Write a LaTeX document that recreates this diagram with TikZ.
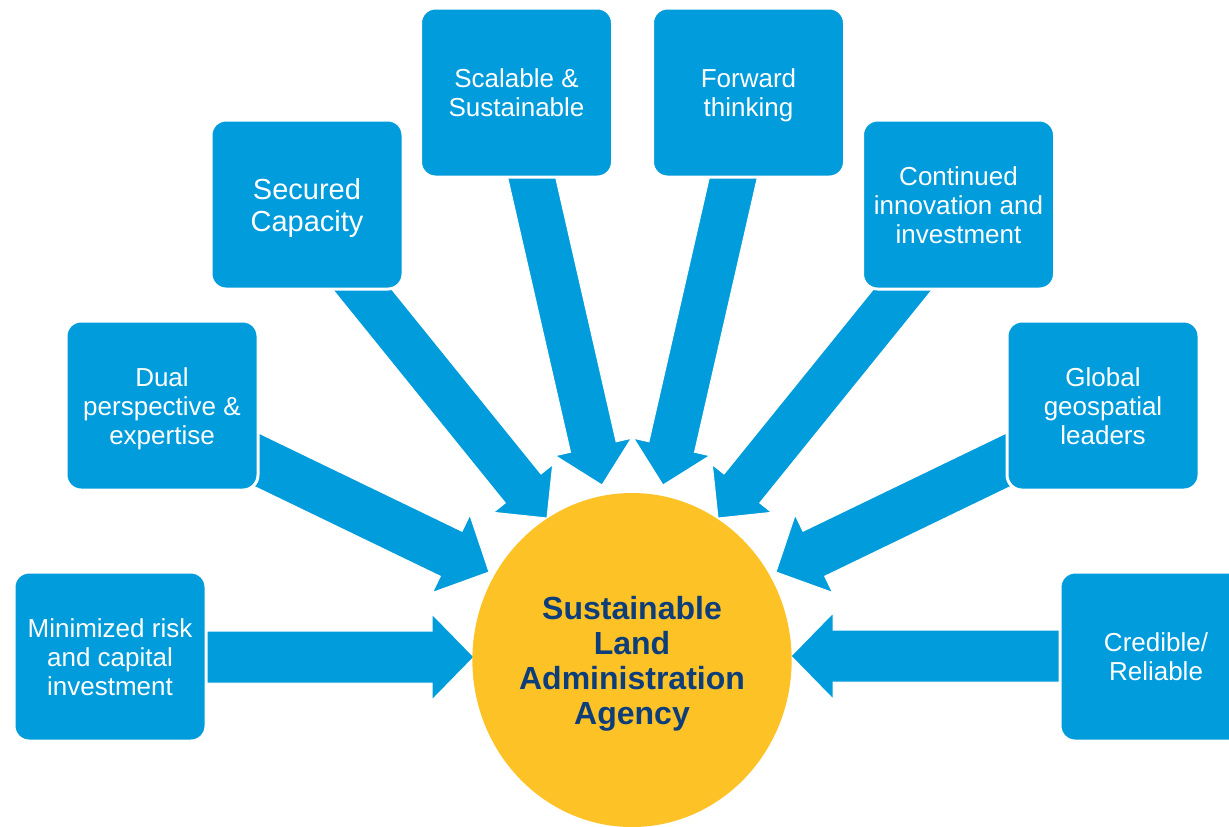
\documentclass[tikz,border=0pt]{standalone}
\usepackage{fontspec}
\setmainfont{Liberation Sans}
\usetikzlibrary{calc,shapes.geometric}

\definecolor{boxblue}{RGB}{0,156,219}
\definecolor{hubyellow}{RGB}{253,194,38}
\definecolor{hubtext}{RGB}{14,62,122}

% Struts for the first line (height) and the last line (depth),
% so that every text block is centred the same way
\newcommand\tops{\rule{0pt}{0.95em}}
\newcommand\bots{\rule[-0.215em]{0pt}{0.215em}}

% Block arrow from start coordinate #1 to tip coordinate #2:
% #3 half shaft width, #4 half head width, #5 head length.
% The shaft is extended backwards so that it tucks under its box.
\newcommand\blockarrow[5]{%
  \path ($(#2)!#5!(#1)$) coordinate (hb)
        ($(#1)!-20pt!(#2)$) coordinate (st);
  \filldraw[arrowbody]
    ($(st)!#3!90:(#2)$) -- ($(hb)!#3!90:(#2)$) -- ($(hb)!#4!90:(#2)$)
    -- (#2)
    -- ($(hb)!#4!-90:(#2)$) -- ($(hb)!#3!-90:(#2)$) -- ($(st)!#3!-90:(#2)$)
    -- cycle;
}

\tikzset{
  arrowbody/.style={fill=boxblue, draw=white, line width=0.5pt, line join=miter},
  ideabox/.style={rectangle, rounded corners=7.5pt, fill=boxblue, draw=white,
    line width=1.5pt, minimum width=96pt, minimum height=84.5pt, inner sep=2pt,
    align=center, text=white, font=\fontsize{13}{14.5}\selectfont},
  hub/.style={ellipse, fill=hubyellow, draw=none, minimum width=158pt,
    minimum height=167pt, inner sep=0pt, align=center, text=hubtext,
    font=\fontsize{16}{17.5}\selectfont\bfseries},
}

\begin{document}
\begin{tikzpicture}[x=0.5pt, y=-0.5pt]
\useasboundingbox (0,0) rectangle (1229,826);
\begin{scope}
\clip (0,0) rectangle (1229,826);

% arrow start points (at the box edges) and tips (at the hub)
\coordinate (s1) at (205,657);   \coordinate (t1) at (474,657);
\coordinate (s2) at (257,460);   \coordinate (t2) at (489,572);
\coordinate (s3) at (363.5,291); \coordinate (t3) at (547,518);
\coordinate (s4) at (532,179);   \coordinate (t4) at (602,485);
\coordinate (s5) at (733,179);   \coordinate (t5) at (663,485);
\coordinate (s6) at (901.5,291); \coordinate (t6) at (718,518);
\coordinate (s7) at (1008,460);  \coordinate (t7) at (776,572);
\coordinate (s8) at (1060,656);  \coordinate (t8) at (791,656);

% block arrows
\blockarrow{s1}{t1}{13pt}{21.5pt}{21pt}
\blockarrow{s2}{t2}{12.5pt}{21.5pt}{21pt}
\blockarrow{s3}{t3}{11.5pt}{19pt}{19pt}
\blockarrow{s4}{t4}{11.7pt}{19.5pt}{19.5pt}
\blockarrow{s5}{t5}{11.7pt}{19.5pt}{19.5pt}
\blockarrow{s6}{t6}{11.5pt}{19pt}{19pt}
\blockarrow{s7}{t7}{12.5pt}{21.5pt}{21pt}
\blockarrow{s8}{t8}{13pt}{21.5pt}{21pt}

% boxes
\node[ideabox] (b1) at (110,656.5) {\tops Minimized risk\\and capital\\investment\bots};
\node[ideabox] (b2) at (162,405.5) {\tops Dual\\perspective \&\\expertise\bots};
\node[ideabox, font=\fontsize{14.5}{16}\selectfont] (b3) at (307,204.5) {\tops Secured\\Capacity\bots};
\node[ideabox] (b4) at (516.5,92.5) {\tops Scalable \&\\Sustainable\bots};
\node[ideabox] (b5) at (748.5,92.5) {\tops Forward\\thinking\bots};
\node[ideabox] (b6) at (958.5,204.5) {\tops Continued\\innovation and\\investment\bots};
\node[ideabox] (b7) at (1103,405.5) {\tops Global\\geospatial\\leaders\bots};
\node[ideabox] (b8) at (1156,656.5) {\tops Credible/\\Reliable\bots};

% central hub
\node[hub] (hub) at (632,660) {\tops Sustainable\\Land\\Administration\\Agency\bots};
\end{scope}
\end{tikzpicture}
\end{document}
